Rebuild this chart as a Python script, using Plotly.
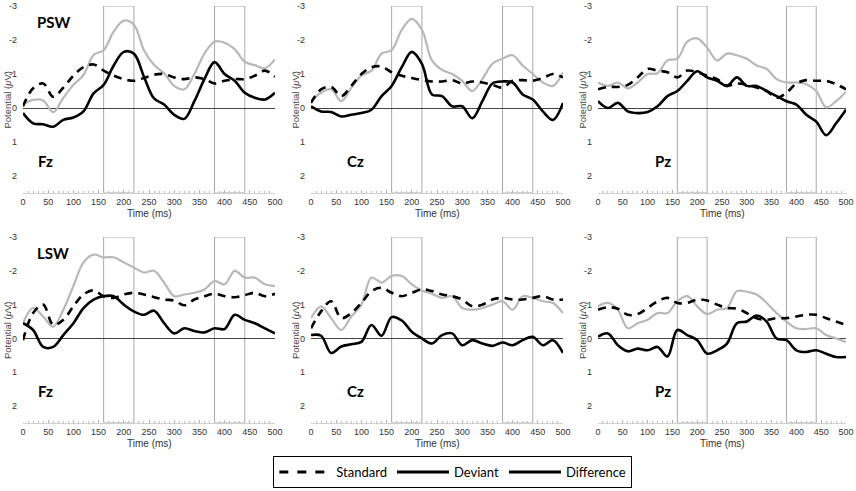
import plotly.graph_objects as go
from plotly.subplots import make_subplots

# time axis (ms), one sample every 20 ms
time_ms = [0, 20, 40, 60, 80, 100, 120, 140, 160, 180, 200, 220, 240,
           260, 280, 300, 320, 340, 360, 380, 400, 420, 440, 460, 480, 500]

# PSW row (potential in uV, negative is plotted up)
psw_fz_std = [-0.05, -0.58, -0.72, -0.33, -0.6, -0.95, -1.2, -1.28, -1.1, -0.95, -0.85, -0.8, -0.88,
              -0.98, -1.0, -0.9, -0.85, -0.9, -0.85, -0.72, -0.8, -0.85, -0.85, -0.95, -1.1, -0.92]
psw_fz_dev = [-0.1, -0.24, -0.22, 0.12, -0.3, -0.68, -0.97, -1.56, -1.7, -2.25, -2.57, -2.45, -1.7,
              -1.27, -1.02, -0.65, -0.55, -1.0, -1.6, -1.95, -1.92, -1.73, -1.36, -1.26, -1.17, -1.43]
psw_fz_diff = [0.15, 0.45, 0.48, 0.55, 0.35, 0.28, 0.1, -0.43, -0.68, -1.25, -1.65, -1.6, -0.92,
               -0.28, -0.1, 0.2, 0.32, -0.2, -0.85, -1.35, -1.0, -0.8, -0.45, -0.3, -0.25, -0.45]

psw_cz_std = [-0.15, -0.55, -0.62, -0.35, -0.65, -1.0, -1.2, -1.22, -1.05, -0.95, -0.88, -0.82, -0.78,
              -0.78, -0.82, -0.72, -0.78, -0.75, -0.68, -0.6, -0.8, -0.82, -0.8, -0.88, -1.0, -0.9]
psw_cz_dev = [-0.2, -0.45, -0.55, -0.2, -0.6, -0.95, -1.1, -1.6, -1.7, -2.3, -2.62, -2.3, -1.4,
              -1.12, -1.0, -0.8, -0.5, -0.85, -1.3, -1.45, -1.55, -1.25, -1.0, -0.75, -0.65, -1.05]
psw_cz_diff = [-0.05, 0.1, 0.12, 0.25, 0.2, 0.15, 0.05, -0.35, -0.65, -1.2, -1.65, -1.3, -0.4,
               -0.35, -0.05, -0.05, 0.3, -0.2, -0.72, -0.78, -0.75, -0.4, -0.25, 0.1, 0.35, -0.15]

psw_pz_std = [-0.55, -0.62, -0.62, -0.68, -0.9, -1.15, -1.1, -1.05, -0.9, -1.1, -1.05, -0.95, -0.85,
              -0.65, -0.72, -0.68, -0.6, -0.5, -0.3, -0.45, -0.72, -0.82, -0.8, -0.8, -0.7, -0.55]
psw_pz_dev = [-0.75, -0.65, -0.75, -0.58, -0.75, -1.0, -1.02, -1.4, -1.45, -1.95, -2.05, -1.78, -1.4,
              -1.6, -1.55, -1.45, -1.25, -1.15, -0.85, -0.75, -0.75, -0.7, -0.5, -0.02, -0.2, -0.48]
psw_pz_diff = [-0.2, 0.0, -0.15, 0.1, 0.15, 0.12, -0.05, -0.35, -0.5, -0.8, -1.08, -0.9, -0.8,
               -0.65, -0.9, -0.65, -0.65, -0.5, -0.35, -0.2, -0.1, 0.2, 0.4, 0.8, 0.45, 0.05]

# LSW row
lsw_fz_std = [0.05, -0.75, -1.0, -0.4, -0.55, -0.95, -1.3, -1.42, -1.25, -1.2, -1.3, -1.35, -1.3,
              -1.22, -1.15, -1.12, -0.98, -1.15, -1.25, -1.32, -1.25, -1.22, -1.28, -1.35, -1.25, -1.32]
lsw_fz_dev = [-0.45, -0.9, -0.65, -0.35, -0.85, -1.55, -2.25, -2.48, -2.4, -2.4, -2.25, -2.1, -1.95,
              -2.0, -1.65, -1.25, -1.3, -1.35, -1.45, -1.7, -1.6, -2.0, -1.8, -1.8, -1.6, -1.55]
lsw_fz_diff = [-0.45, -0.25, 0.25, 0.25, -0.1, -0.45, -0.9, -1.15, -1.25, -1.25, -1.0, -0.8, -0.7,
               -0.82, -0.45, -0.15, -0.3, -0.22, -0.18, -0.3, -0.28, -0.7, -0.55, -0.45, -0.3, -0.15]

lsw_cz_std = [-0.3, -0.8, -1.1, -0.6, -0.75, -1.05, -1.4, -1.5, -1.35, -1.25, -1.35, -1.45, -1.4,
              -1.3, -1.25, -1.15, -0.95, -1.0, -1.15, -1.2, -1.15, -1.15, -1.2, -1.25, -1.15, -1.15]
lsw_cz_dev = [-0.6, -0.95, -0.6, -0.25, -0.65, -1.0, -1.8, -1.65, -1.85, -1.85, -1.6, -1.42, -1.32,
              -1.2, -1.25, -0.9, -0.85, -0.9, -1.0, -1.1, -0.85, -1.25, -1.2, -1.1, -1.05, -0.75]
lsw_cz_diff = [-0.1, -0.08, 0.43, 0.24, 0.17, 0.1, -0.4, -0.08, -0.63, -0.53, -0.2, 0.0, 0.15,
               -0.1, -0.15, 0.2, 0.05, 0.15, 0.22, 0.12, 0.2, 0.05, -0.05, 0.2, 0.05, 0.43]

lsw_pz_std = [-0.85, -0.92, -0.88, -0.7, -0.72, -0.9, -1.1, -1.2, -1.05, -1.05, -1.15, -1.12, -1.0,
              -0.9, -0.88, -0.75, -0.6, -0.55, -0.6, -0.6, -0.65, -0.7, -0.7, -0.6, -0.5, -0.4]
lsw_pz_dev = [-0.95, -1.05, -0.85, -0.3, -0.45, -0.55, -0.75, -0.75, -1.1, -1.25, -0.95, -0.72, -0.85,
              -0.9, -1.4, -1.38, -1.3, -1.05, -0.75, -0.5, -0.3, -0.28, -0.3, -0.1, 0.0, 0.1]
lsw_pz_diff = [-0.05, -0.15, 0.2, 0.38, 0.3, 0.35, 0.25, 0.53, -0.25, -0.1, 0.05, 0.45, 0.35,
               0.15, -0.45, -0.5, -0.68, -0.5, 0.0, 0.05, 0.35, 0.4, 0.35, 0.45, 0.55, 0.55]

windows = [(160, 220), (380, 440)]
sites = ["Fz", "Cz", "Pz"]
components = ["PSW", "LSW"]

panels = [
    [(psw_fz_std, psw_fz_dev, psw_fz_diff), (psw_cz_std, psw_cz_dev, psw_cz_diff), (psw_pz_std, psw_pz_dev, psw_pz_diff)],
    [(lsw_fz_std, lsw_fz_dev, lsw_fz_diff), (lsw_cz_std, lsw_cz_dev, lsw_cz_diff), (lsw_pz_std, lsw_pz_dev, lsw_pz_diff)],
]

W, H = 856, 491
col_px = [(23, 275), (311, 563), (598, 846)]
row_px = [(6, 193), (237, 423)]
site_x = [0.05, 0.135, 0.22]   # where the electrode label sits inside each panel

fig = make_subplots(rows=2, cols=3)

for r in range(2):
    for c in range(3):
        std, dev, diff = panels[r][c]
        fig.add_trace(go.Scatter(x=time_ms, y=dev, mode="lines", line=dict(color="#b8b8b8", width=2.2, shape="spline"),
                                 showlegend=False), row=r + 1, col=c + 1)
        fig.add_trace(go.Scatter(x=time_ms, y=std, mode="lines", line=dict(color="black", width=2.6, dash="8px,6px", shape="spline"),
                                 showlegend=False), row=r + 1, col=c + 1)
        fig.add_trace(go.Scatter(x=time_ms, y=diff, mode="lines", line=dict(color="black", width=2.6, shape="spline"),
                                 showlegend=False), row=r + 1, col=c + 1)

        n = r * 3 + c + 1
        xa = "x" if n == 1 else f"x{n}"
        ya = "y" if n == 1 else f"y{n}"
        x0, x1 = col_px[c]
        y0, y1 = row_px[r]
        fig.layout[("xaxis" if n == 1 else f"xaxis{n}")].domain = [x0 / W, x1 / W]
        fig.layout[("yaxis" if n == 1 else f"yaxis{n}")].domain = [1 - y1 / H, 1 - y0 / H]

        for a, b in windows:
            fig.add_shape(type="rect", xref=xa, yref=ya, x0=a, x1=b, y0=-3, y1=2.5,
                          line=dict(color="#a8a8a8", width=1), layer="below")

        if c == 0:
            fig.add_annotation(xref=f"{xa} domain", yref=f"{ya} domain", x=0.048, y=0.914,
                               text=f"<b>{components[r]}</b>", showarrow=False,
                               xanchor="left", yanchor="middle",
                               font=dict(size=15, family="Lato", color="black"))
        fig.add_annotation(xref=f"{xa} domain", yref=f"{ya} domain", x=site_x[c], y=0.17,
                           text=f"<b>{sites[c]}</b>", showarrow=False,
                           xanchor="left", yanchor="middle",
                           font=dict(size=15, family="Lato", color="black"))
        # y title
        fig.add_annotation(xref="paper", yref=f"{ya} domain", x=(x0 - 16) / W, y=0.5,
                           xanchor="center", yanchor="middle",
                           text="Potential (<i>μ</i>V)", textangle=-90, showarrow=False,
                           font=dict(size=9.5, color="#444"))
        # x title
        fig.add_annotation(xref=f"{xa} domain", yref="paper", x=0.5, y=1 - (y1 + 20) / H,
                           xanchor="center", yanchor="middle",
                           text="Time (ms)", showarrow=False, font=dict(size=10, color="#333"))

fig.update_xaxes(range=[0, 500], tick0=0, dtick=50, showgrid=False, zeroline=False,
                 automargin=False,
                 showline=True, linecolor="#d0d0d0", linewidth=1,
                 ticks="inside", ticklen=3, tickcolor="#b0b0b0",
                 minor=dict(ticks="inside", dtick=10, ticklen=2, tickcolor="#c0c0c0"),
                 tickfont=dict(size=9, color="#333", family="Liberation Sans"))
fig.update_yaxes(range=[2.5, -3], tickvals=[-3, -2, -1, 0, 1, 2],
                 ticktext=["-3", "-2", "-1", "0", "1", "2"], showgrid=False,
                 automargin=False, ticklabelstandoff=5,
                 zeroline=True, zerolinecolor="#444", zerolinewidth=1, showline=False,
                 ticks="", tickfont=dict(size=9, color="#333", family="Liberation Sans"))

# legend-only entries (legend shows all three as black lines)
legend_names = ["Standard", "Deviant", "Difference"]
legend_dash = ["dash", "solid", "solid"]
for name, d in zip(legend_names, legend_dash):
    fig.add_trace(go.Scatter(x=[None], y=[None], mode="lines", name=name,
                             line=dict(color="black", width=3, dash=d)), row=1, col=1)

fig.update_layout(
    width=W, height=H,
    margin=dict(l=0, r=0, t=0, b=0),
    plot_bgcolor="white", paper_bgcolor="white",
    font=dict(family="Liberation Sans"),
    legend=dict(orientation="h", x=0.529, xanchor="center", y=1 - 472 / H, yanchor="middle",
                bordercolor="black", borderwidth=1, bgcolor="white",
                font=dict(size=13, family="Lato", color="black"),
                itemwidth=52),
)

fig.write_html("out.html", config={"displayModeBar": False},
               post_script="document.body.style.margin='0';")
